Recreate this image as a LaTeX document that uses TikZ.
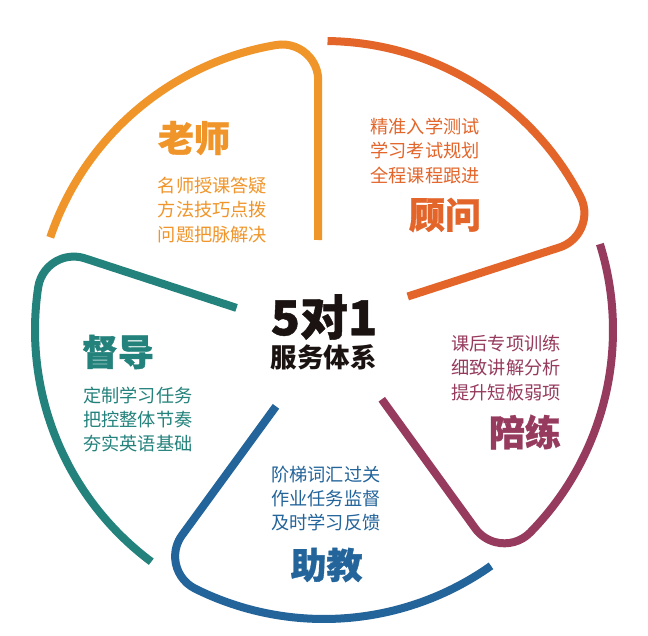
\documentclass[tikz,border=0pt]{standalone}
\usepackage{fontspec}
\newfontfamily\cjk{Noto Sans CJK SC}
\newfontfamily\cjkheavy{Noto Sans CJK SC}[BoldFeatures={FakeBold=0.9}]
\definecolor{cOrange}{HTML}{F0952A}
\definecolor{cRed}{HTML}{E3652A}
\definecolor{cPurple}{HTML}{963B5E}
\definecolor{cBlue}{HTML}{23649A}
\definecolor{cTeal}{HTML}{24827C}
\definecolor{cBlack}{HTML}{1A1311}
\tikzset{
  seg/.style={line width=8pt, line cap=butt},
  head/.style={inner sep=0pt, font=\cjkheavy\bfseries\fontsize{36pt}{36pt}\selectfont},
  lines/.style={inner sep=0pt, align=center, font=\cjk\fontsize{18.2pt}{24.3pt}\selectfont},
}
\newcommand{\segpath}[2]{%
  \begin{scope}[rotate=#1]
    \draw[seg, #2] (161.3:289pt) arc[start angle=161.3, end angle=99.5, radius=289pt]
      arc[start angle=99.5, end angle=0, radius=36pt] -- (-6pt,90pt);
  \end{scope}}
\begin{document}
\begin{tikzpicture}
\useasboundingbox[fill=white] (-324pt,-305pt) rectangle (324pt,330pt);
\segpath{0}{cOrange}
\segpath{-72}{cRed}
\segpath{-144}{cPurple}
\segpath{-216}{cBlue}
\segpath{-288}{cTeal}
% center
\node[inner sep=0pt, text=cBlack, font=\cjkheavy\bfseries\fontsize{48pt}{48pt}\selectfont] (title) at (0pt,13pt) {5对1};
\node[inner sep=0pt, text=cBlack, font=\cjk\bfseries\fontsize{26.5pt}{26.5pt}\selectfont] (sub) at (0pt,-27pt) {服务体系};
% 老师
\node[head, text=cOrange] (h1) at (-130pt,192pt) {老师};
\node[lines, text=cOrange] (t1) at (-111.5pt,120pt) {名师授课答疑\\方法技巧点拨\\问题把脉解决};
% 顾问
\node[lines, text=cRed] (t2) at (101pt,179pt) {精准入学测试\\学习考试规划\\全程课程跟进};
\node[head, text=cRed] (h2) at (121pt,115pt) {顾问};
% 陪练
\node[lines, text=cPurple] (t3) at (182pt,-38pt) {课后专项训练\\细致讲解分析\\提升短板弱项};
\node[head, text=cPurple] (h3) at (201pt,-102pt) {陪练};
% 助教
\node[lines, text=cBlue] (t4) at (2pt,-168.5pt) {阶梯词汇过关\\作业任务监督\\及时学习反馈};
\node[head, text=cBlue] (h4) at (2.5pt,-235pt) {助教};
% 督导
\node[head, text=cTeal] (h5) at (-206pt,-22pt) {督导};
\node[lines, text=cTeal] (t5) at (-186pt,-89.5pt) {定制学习任务\\把控整体节奏\\夯实英语基础};
\end{tikzpicture}
\end{document}
